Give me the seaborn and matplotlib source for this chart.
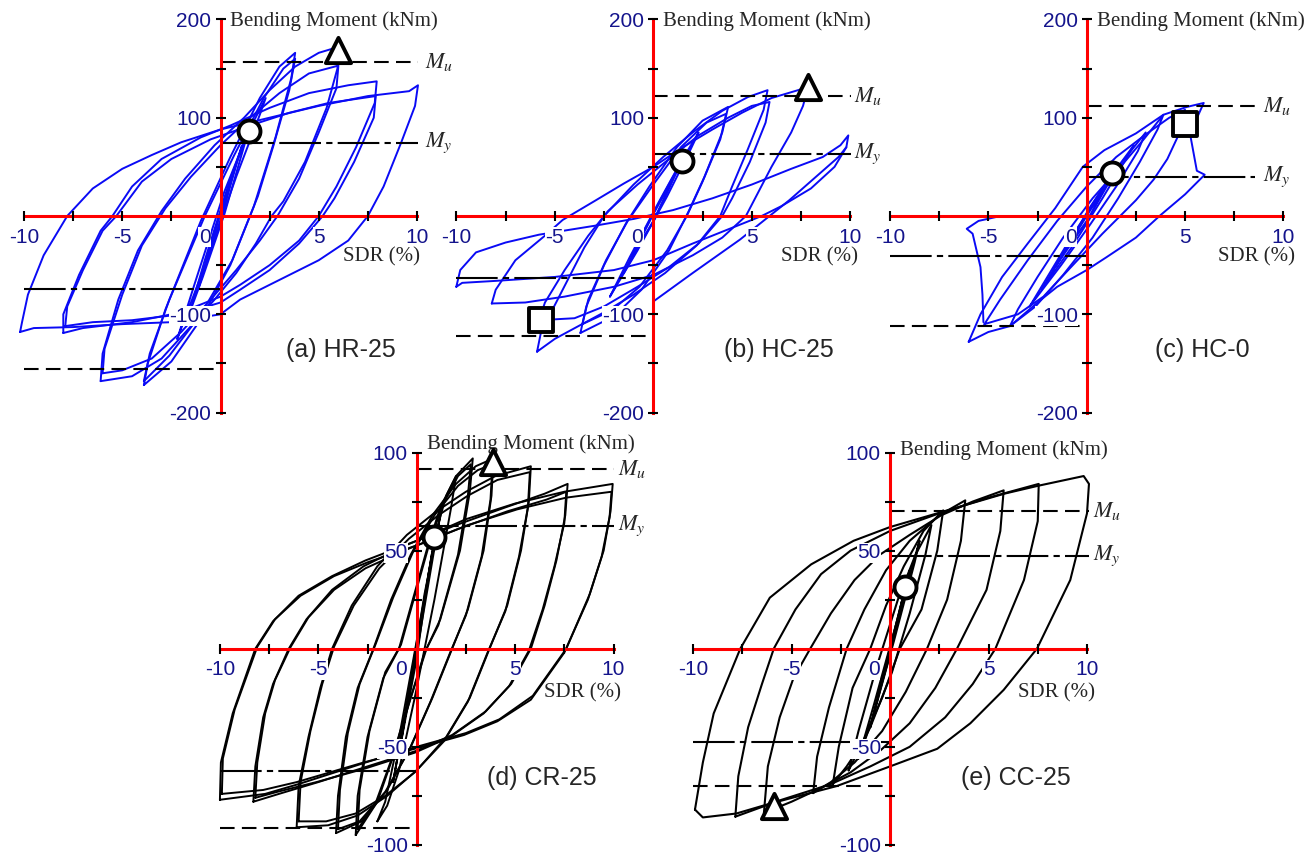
import pandas as pd
import seaborn as sns
import matplotlib.pyplot as plt
from matplotlib.transforms import ScaledTranslation

sns.set_theme(style="white")
plt.rcParams["font.family"] = ["Liberation Sans", "DejaVu Sans"]
plt.rcParams["mathtext.fontset"] = "stix"

# ---------- data: (SDR %, bending moment kNm) ----------
# (a) HR-25
HR25_S1 = [(-0.75, -48), (0.0, 4), (0.75, 50), (0.55, 36), (0.0, -6), (-0.75, -48)]
HR25_S2 = [(-1.1, -72), (-0.3, -16), (0.6, 42), (1.1, 72), (0.85, 55), (0.0, -4), (-1.1, -72)]
HR25_S3 = [(-1.6, -100), (-0.8, -45), (0.5, 38), (1.6, 95), (1.3, 78), (0.2, 2), (-0.9, -62), (-1.6, -100)]
HR25_S4 = [(-2.2, -125), (-1.3, -68), (0.2, 25), (1.4, 85), (2.3, 120), (2.0, 103), (0.8, 40), (-0.6, -40), (-2.2, -125)]
HR25_C4A = [(-3.9, -172), (-3.7, -150), (-2.8, -95), (-1.0, -5), (0.5, 60), (2.0, 120), (3.0, 152), (3.8, 166),
            (3.6, 140), (2.8, 80), (1.7, 10), (0.5, -50), (-1.0, -105), (-2.5, -148), (-3.9, -172)]
HR25_C4B = [(-3.9, -168), (-3.6, -140), (-2.6, -85), (-0.8, 0), (0.7, 62), (2.2, 120), (3.2, 150), (3.8, 160),
            (3.5, 128), (2.7, 72), (1.9, 20), (0.6, -45), (-1.0, -100), (-2.6, -142), (-3.9, -168)]
HR25_C6A = [(-6.1, -168), (-6.0, -140), (-5.2, -85), (-4.2, -35), (-3.0, 5), (-1.8, 38), (-0.3, 72), (1.2, 100),
            (2.5, 128), (3.8, 152), (5.0, 166), (6.0, 172), (5.95, 150), (5.4, 110), (4.3, 55), (3.2, 15),
            (2.6, 0), (1.8, -28), (0.8, -58), (-0.3, -85), (-1.5, -112), (-3.0, -145), (-4.5, -163), (-6.1, -168)]
HR25_C6B = [(-6.0, -160), (-5.9, -135), (-5.0, -80), (-4.0, -30), (-2.8, 8), (-1.5, 40), (0.0, 72), (1.5, 100),
            (3.0, 125), (4.5, 145), (6.0, 153), (5.9, 130), (5.0, 85), (4.0, 38), (2.9, 0), (2.0, -25),
            (0.8, -55), (-0.5, -85), (-2.0, -118), (-3.5, -145), (-5.0, -157), (-6.0, -160)]
HR25_C8A = [(-8.0, -119), (-8.0, -100), (-7.2, -60), (-6.1, -15), (-5.5, 0), (-4.5, 30), (-3.0, 58), (-1.0, 80),
            (0.5, 92), (2.5, 110), (4.5, 125), (6.5, 133), (7.95, 137), (7.85, 115), (6.9, 70), (5.9, 30),
            (5.0, 0), (4.0, -25), (2.5, -50), (1.0, -70), (0.0, -82), (-2.0, -98), (-4.5, -108), (-7.0, -114),
            (-8.0, -119)]
HR25_C8B = [(-7.9, -112), (-7.8, -92), (-7.0, -55), (-6.0, -15), (-5.3, 0), (-4.0, 35), (-2.5, 58), (-0.5, 78),
            (1.5, 92), (3.5, 105), (5.5, 115), (7.9, 122), (7.8, 100), (6.8, 55), (5.8, 18), (5.2, 0),
            (4.0, -28), (2.5, -55), (1.0, -75), (0.0, -88), (-2.0, -100), (-4.5, -106), (-6.5, -108), (-7.9, -112)]
HR25_C10 = [(-10.2, -118), (-10.1, -108), (-9.8, -80), (-9.0, -40), (-7.8, 0), (-6.5, 28), (-5.0, 48),
            (-3.5, 62), (-2.0, 75), (0.0, 88), (2.5, 100), (5.0, 112), (7.5, 122), (9.6, 127), (10.05, 133),
            (9.9, 112), (9.2, 75), (8.3, 30), (7.5, 0), (6.5, -25), (5.0, -45), (3.0, -65), (1.0, -85),
            (0.0, -100), (-2.5, -108), (-5.0, -110), (-7.5, -113), (-9.5, -114), (-10.2, -118)]

# (b) HC-25
HC25_S1 = [(-1.0, -38), (0.0, 2), (1.0, 38), (0.8, 28), (0.0, -6), (-1.0, -38)]
HC25_S2 = [(-1.5, -58), (-0.6, -20), (0.6, 25), (1.5, 58), (1.2, 45), (0.0, -5), (-1.5, -58)]
HC25_S3 = [(-2.2, -82), (-1.2, -42), (0.3, 15), (1.4, 55), (2.3, 85), (1.9, 68), (0.7, 20), (-0.8, -35), (-2.2, -82)]
HC25_C4A = [(-3.7, -119), (-3.4, -92), (-2.5, -50), (-1.4, -8), (-0.2, 30), (1.2, 70), (2.5, 97), (3.8, 111),
            (3.5, 85), (2.6, 40), (1.8, 5), (0.8, -35), (-0.6, -75), (-2.0, -102), (-3.7, -119)]
HC25_C4B = [(-3.6, -110), (-3.3, -85), (-2.4, -45), (-1.3, -5), (0.0, 32), (1.4, 70), (2.7, 95), (3.7, 104),
            (3.4, 78), (2.5, 35), (1.7, 0), (0.7, -35), (-0.7, -72), (-2.1, -96), (-3.6, -110)]
HC25_C6A = [(-5.9, -138), (-5.7, -118), (-4.6, -75), (-3.5, -32), (-2.5, 0), (-1.0, 32), (0.5, 60), (2.0, 85),
            (3.5, 107), (4.8, 121), (5.8, 128), (5.6, 108), (4.8, 68), (4.0, 30), (3.4, 0), (2.2, -30),
            (0.6, -58), (-1.0, -80), (-2.5, -98), (-3.8, -112), (-5.0, -125), (-5.9, -138)]
HC25_C6B = [(-5.8, -106), (-5.5, -88), (-4.5, -55), (-3.3, -20), (-2.3, 5), (-0.8, 32), (0.8, 58), (2.3, 82),
            (3.8, 100), (5.0, 112), (5.9, 116), (5.7, 95), (4.9, 55), (4.0, 18), (3.5, 0), (2.3, -28),
            (0.8, -52), (-0.8, -72), (-2.5, -92), (-4.0, -104), (-5.8, -106)]
HC25_C8 = [(-8.2, -89), (-8.0, -75), (-7.0, -45), (-5.5, -20), (-4.6, -4), (-3.0, 15), (-1.5, 33), (0.0, 50),
           (1.5, 70), (3.0, 88), (4.5, 105), (6.0, 120), (7.85, 131), (7.6, 112), (7.0, 85), (6.0, 50),
           (4.7, 0), (3.5, -22), (2.0, -40), (0.0, -60), (-2.0, -72), (-4.5, -82), (-6.5, -88), (-8.2, -89)]
HC25_C10 = [(-10.0, -72), (-9.8, -55), (-9.0, -37), (-7.5, -27), (-5.8, -19), (-3.0, -10), (-1.0, -3),
            (1.0, 6), (3.0, 18), (5.0, 32), (7.0, 48), (8.6, 60), (9.5, 72), (9.9, 82), (9.8, 70), (9.2, 50),
            (8.0, 28), (6.5, 10), (5.5, 0), (4.0, -12), (2.0, -28), (0.0, -45), (-2.0, -55), (-5.0, -62),
            (-8.0, -66), (-9.7, -68), (-10.0, -72)]
HC25_TAIL = [(0.0, -87), (2.0, -58), (4.4, -24), (6.9, 16), (9.4, 60), (9.8, 70)]

# (c) HC-0
HC0_S1 = [(-1.0, -32), (0.0, 0), (1.0, 32), (0.8, 24), (0.0, -6), (-1.0, -32)]
HC0_S2 = [(-1.6, -52), (-0.6, -18), (0.6, 22), (1.6, 52), (1.3, 40), (0.1, -2), (-1.6, -52)]
HC0_S3 = [(-2.3, -75), (-1.2, -38), (0.2, 10), (1.4, 45), (2.4, 72), (2.0, 58), (0.8, 18), (-0.7, -30), (-2.3, -75)]
HC0_C3 = [(-2.9, -92), (-2.0, -62), (-0.8, -22), (0.6, 20), (1.8, 55), (3.0, 85), (2.6, 66), (1.5, 30),
          (0.2, -8), (-1.3, -50), (-2.9, -92)]
HC0_C4 = [(-3.9, -112), (-3.5, -95), (-2.5, -62), (-1.2, -22), (0.3, 18), (1.8, 52), (2.9, 78), (3.9, 103),
          (3.6, 88), (2.7, 55), (1.6, 18), (0.3, -22), (-1.2, -60), (-2.6, -92), (-3.9, -112)]
HC0_C5 = [(-5.2, -110), (-4.4, -85), (-3.0, -45), (-1.5, -5), (0.0, 30), (1.5, 60), (3.0, 83), (4.2, 100),
          (5.0, 108), (4.8, 88), (4.1, 58), (3.4, 37), (2.5, 16), (0.8, -18), (-0.8, -52), (-2.2, -82),
          (-3.5, -100), (-5.2, -110)]
HC0_C6 = [(-6.0, -128), (-5.4, -100), (-4.3, -62), (-3.0, -28), (-1.6, 8), (-0.2, 50), (0.9, 67), (2.5, 84),
          (3.9, 103), (5.1, 111), (5.95, 115), (5.25, 84), (5.6, 46), (6.0, 42), (5.0, 22), (3.7, 0),
          (2.5, -22), (1.0, -42), (0.0, -55), (-1.5, -72), (-2.5, -88), (-3.9, -112), (-5.0, -118), (-6.0, -128)]
HC0_F = [(-5.25, -108), (-5.3, -80), (-5.4, -52), (-5.8, -18), (-6.1, -13), (-5.5, -5), (-4.6, -1)]

# (d) CR-25
CR25_S1 = [(-0.5, -30), (0.5, 31), (0.35, 22), (-0.5, -30)]
CR25_S2 = [(-0.8, -48), (0.0, 2), (0.8, 50), (0.6, 38), (0.0, -5), (-0.8, -48)]
CR25_S3 = [(-1.2, -68), (-0.4, -22), (0.4, 28), (1.2, 68), (0.95, 54), (0.0, -2), (-1.2, -68)]
CR25_C2 = [(-2.0, -88), (-1.6, -78), (-0.8, -40), (0.2, 15), (1.0, 60), (1.5, 78), (2.0, 88), (1.75, 72),
           (0.9, 25), (-0.1, -25), (-0.9, -62), (-1.5, -80), (-2.0, -88)]
CR25_C3A = [(-3.1, -95), (-3.0, -75), (-2.5, -45), (-1.7, -15), (-0.9, 0), (-0.2, 25), (0.5, 50), (1.2, 72),
            (2.0, 88), (2.85, 97), (2.7, 80), (2.2, 50), (1.2, 15), (0.5, 0), (-0.3, -25), (-1.2, -55),
            (-2.0, -78), (-3.1, -95)]
CR25_C3B = [(-3.0, -92), (-2.9, -72), (-2.4, -42), (-1.6, -12), (-0.8, 2), (-0.1, 27), (0.6, 52), (1.3, 73),
            (2.1, 88), (2.75, 94), (2.6, 78), (2.1, 48), (1.1, 12), (0.4, -2), (-0.4, -28), (-1.3, -57),
            (-2.1, -79), (-3.0, -92)]
CR25_C4A = [(-4.1, -94), (-4.0, -75), (-3.6, -45), (-3.0, -20), (-2.2, 0), (-1.3, 25), (-0.3, 48), (0.8, 68),
            (2.0, 84), (3.0, 93), (3.9, 97), (3.8, 78), (3.4, 50), (2.6, 20), (1.8, 0), (0.8, -25),
            (-0.3, -50), (-1.5, -72), (-2.8, -88), (-4.1, -94)]
CR25_C4B = [(-4.0, -92), (-3.9, -72), (-3.5, -43), (-2.9, -18), (-2.1, 2), (-1.2, 26), (-0.2, 49), (0.9, 68),
            (2.1, 83), (3.1, 91), (3.85, 94), (3.75, 76), (3.3, 47), (2.5, 17), (1.7, -2), (0.7, -27),
            (-0.4, -52), (-1.6, -73), (-2.9, -88), (-4.0, -92)]
CR25_C6A = [(-6.1, -91), (-6.0, -70), (-5.5, -45), (-4.9, -20), (-4.3, 0), (-3.3, 22), (-2.0, 42), (-0.5, 58),
            (1.0, 70), (2.5, 80), (4.0, 88), (5.8, 93), (5.7, 75), (5.3, 50), (4.6, 22), (3.7, 0), (2.7, -25),
            (1.5, -45), (0.0, -62), (-1.5, -75), (-3.0, -85), (-4.5, -90), (-6.1, -91)]
CR25_C6B = [(-6.0, -88), (-5.9, -68), (-5.4, -42), (-4.8, -18), (-4.2, 1), (-3.2, 22), (-1.9, 41), (-0.4, 56),
            (1.1, 68), (2.6, 78), (4.1, 86), (5.75, 90), (5.65, 72), (5.2, 47), (4.5, 19), (3.6, -2),
            (2.6, -27), (1.4, -47), (-0.1, -63), (-1.6, -75), (-3.1, -84), (-4.6, -88), (-6.0, -88)]
CR25_C8A = [(-8.3, -78), (-8.2, -60), (-7.8, -35), (-7.3, -18), (-6.5, 0), (-5.6, 15), (-4.3, 30), (-2.7, 42),
            (-0.5, 53), (2.0, 63), (4.5, 72), (6.5, 79), (7.67, 84), (7.55, 68), (7.1, 45), (6.5, 22), (5.8, 0),
            (4.8, -18), (3.5, -32), (1.8, -44), (0.0, -52), (-2.5, -60), (-5.0, -68), (-7.0, -74), (-8.3, -78)]
CR25_C8B = [(-8.2, -76), (-8.1, -58), (-7.7, -33), (-7.2, -16), (-6.4, 1), (-5.5, 16), (-4.2, 30), (-2.6, 41),
            (-0.4, 51), (2.1, 61), (4.6, 70), (6.6, 76), (7.6, 80), (7.5, 64), (7.0, 42), (6.4, 20), (5.7, -1),
            (4.7, -19), (3.4, -33), (1.7, -45), (-0.1, -53), (-2.6, -61), (-5.1, -68), (-7.1, -73), (-8.2, -76)]
CR25_C10A = [(-10.0, -77), (-9.95, -58), (-9.35, -33), (-8.2, 0), (-7.3, 14), (-6.0, 27), (-4.3, 37),
             (-2.6, 45), (0.0, 55), (2.5, 66), (5.0, 74), (7.5, 80), (9.96, 84), (9.85, 70), (9.5, 50),
             (8.8, 28), (7.6, 0), (5.9, -24), (4.2, -36), (2.5, -43), (0.0, -50), (-2.6, -58), (-6.0, -69),
             (-7.7, -74), (-10.0, -77)]
CR25_C10B = [(-9.9, -74), (-9.85, -56), (-9.25, -31), (-8.1, 1), (-7.2, 15), (-5.9, 27), (-4.2, 37),
             (-2.5, 44), (0.1, 53), (2.6, 63), (5.1, 71), (7.6, 77), (9.9, 80), (9.8, 67), (9.4, 47),
             (8.7, 25), (7.5, -2), (5.8, -26), (4.1, -37), (2.4, -44), (-0.1, -51), (-2.7, -58), (-6.1, -68),
             (-7.8, -72), (-9.9, -74)]

# (e) CC-25
CC25_S1 = [(-0.6, -24), (0.0, 0), (0.6, 24), (0.45, 17), (0.0, -3), (-0.6, -24)]
CC25_S2 = [(-1.0, -40), (-0.3, -12), (0.4, 16), (1.0, 40), (0.8, 31), (0.0, -2), (-1.0, -40)]
CC25_S3 = [(-1.6, -56), (-0.8, -28), (0.3, 12), (1.5, 55), (1.25, 44), (0.2, 4), (-0.9, -36), (-1.6, -56)]
CC25_C2 = [(-2.1, -62), (-1.6, -42), (-0.7, -10), (0.4, 25), (1.3, 48), (2.1, 63), (1.8, 48), (1.0, 18),
           (0.1, -12), (-1.0, -40), (-2.1, -62)]
CC25_C3 = [(-2.9, -69), (-2.6, -50), (-1.9, -20), (-1.0, 0), (-0.2, 22), (0.7, 42), (1.7, 60), (2.7, 70.5),
           (2.4, 50), (1.6, 20), (0.5, 0), (-0.4, -25), (-1.4, -48), (-2.2, -60), (-2.9, -69)]
CC25_C4 = [(-3.9, -73.6), (-3.7, -55), (-3.1, -30), (-2.2, 0), (-1.3, 20), (-0.2, 40), (1.0, 55), (2.5, 68),
           (3.82, 75.6), (3.6, 55), (2.9, 25), (1.88, 0), (0.8, -22), (-0.4, -42), (-1.8, -58), (-3.0, -68),
           (-3.9, -73.6)]
CC25_C6 = [(-6.4, -83.7), (-6.2, -60), (-5.6, -35), (-4.9, -15), (-4.05, 0), (-3.0, 18), (-1.8, 35), (-0.5, 48),
           (1.0, 58), (2.6, 68), (4.2, 75), (5.77, 80.7), (5.6, 60), (4.9, 30), (3.4, 0), (2.3, -20), (1.0, -38),
           (-0.5, -52), (-2.0, -63), (-3.5, -71), (-5.0, -78), (-6.4, -83.7)]
CC25_C8 = [(-7.85, -85.6), (-7.7, -65), (-7.2, -40), (-6.5, -18), (-5.9, 0), (-4.8, 20), (-3.5, 38), (-2.0, 50),
           (0.0, 60), (2.5, 69), (5.0, 77), (7.55, 84), (7.5, 65), (6.8, 35), (5.35, 0), (4.2, -18), (2.8, -35),
           (1.0, -50), (-1.0, -60), (-3.0, -69), (-5.5, -77), (-7.85, -85.6)]
CC25_C10 = [(-9.9, -82), (-9.5, -58), (-8.95, -33), (-7.6, 0), (-6.1, 26), (-4.0, 43), (-1.85, 55), (0.0, 62),
            (2.4, 69), (5.8, 79), (7.5, 83), (9.83, 88), (10.1, 84), (10.0, 69), (9.15, 35), (7.46, 0),
            (5.77, -21), (4.08, -38), (2.4, -51), (0.0, -60), (-2.7, -70), (-6.1, -79), (-7.8, -84),
            (-9.5, -86), (-9.9, -82)]

# reference moments (Mu+, My+, My-, Mu-) and marker points
HR25_REF = [157, 74.6, -74.6, -156]
HC25_REF = [122, 63.4, -62.7, -122]
HC0_REF = [112, 40, -40.3, -112]
CR25_REF = [91.4, 62.5, -62.4, -91.2]
CC25_REF = [70, 47.3, -47.6, -70.2]

HR25_MARK = {"o": (1.47, 86.8), "^": (6.0, 169)}
HC25_MARK = {"o": (1.46, 56), "^": (7.85, 131), "s": (-5.7, -106)}
HC0_MARK = {"o": (1.27, 44), "s": (5.0, 94)}
CR25_MARK = {"o": (0.9, 57), "^": (3.86, 95)}
CC25_MARK = {"o": (0.78, 31.5), "^": (-5.9, -80)}

BLUE = "#0a0af5"
NAVY = "#14148c"

panels = [
    dict(name="(a) HR-25", color=BLUE, lw=1.4, ox=220.5, oy=216, sx=19.65, sy=0.983, ymax=200,
         loops=dict(s1=HR25_S1, s2=HR25_S2, s3=HR25_S3, s4=HR25_S4, c4a=HR25_C4A, c4b=HR25_C4B,
                    c6a=HR25_C6A, c6b=HR25_C6B, c8a=HR25_C8A, c8b=HR25_C8B, c10=HR25_C10),
         ref=HR25_REF, mark=HR25_MARK, pos_end=10.05, mlab_x=10.4, bm_y=198, sdr_x=10.15, sdr_y=-42,
         lab=(6.13, -136)),
    dict(name="(b) HC-25", color=BLUE, lw=1.4, ox=653.3, oy=216, sx=19.7, sy=0.983, ymax=200,
         loops=dict(s1=HC25_S1, s2=HC25_S2, s3=HC25_S3, c4a=HC25_C4A, c4b=HC25_C4B, c6a=HC25_C6A,
                    c6b=HC25_C6B, c8=HC25_C8, c10=HC25_C10, tail=HC25_TAIL),
         ref=HC25_REF, mark=HC25_MARK, pos_end=10.05, mlab_x=10.2, bm_y=198, sdr_x=10.4, sdr_y=-42,
         lab=(6.38, -136)),
    dict(name="(c) HC-0", color=BLUE, lw=1.4, ox=1086.7, oy=216, sx=19.67, sy=0.983, ymax=200,
         loops=dict(s1=HC0_S1, s2=HC0_S2, s3=HC0_S3, c3=HC0_C3, c4=HC0_C4, c5=HC0_C5, c6=HC0_C6, f=HC0_F),
         ref=HC0_REF, mark=HC0_MARK, pos_end=8.56, mlab_x=8.95, bm_y=198, sdr_x=10.6, sdr_y=-42,
         lab=(5.86, -136)),
    dict(name="(d) CR-25", color="black", lw=1.4, ox=416.7, oy=648.7, sx=19.68, sy=1.962, ymax=100,
         loops=dict(s1=CR25_S1, s2=CR25_S2, s3=CR25_S3, c2=CR25_C2, c3a=CR25_C3A, c3b=CR25_C3B,
                    c4a=CR25_C4A, c4b=CR25_C4B, c6a=CR25_C6A, c6b=CR25_C6B, c8a=CR25_C8A, c8b=CR25_C8B,
                    c10a=CR25_C10A, c10b=CR25_C10B),
         ref=CR25_REF, mark=CR25_MARK, pos_end=10.0, mlab_x=10.25, bm_y=104.5, sdr_x=10.4, sdr_y=-22.5,
         lab=(6.37, -66)),
    dict(name="(e) CC-25", color="black", lw=1.5, ox=890, oy=648.7, sx=19.7, sy=1.962, ymax=100,
         loops=dict(s1=CC25_S1, s2=CC25_S2, s3=CC25_S3, c2=CC25_C2, c3=CC25_C3, c4=CC25_C4, c6=CC25_C6,
                    c8=CC25_C8, c10=CC25_C10),
         ref=CC25_REF, mark=CC25_MARK, pos_end=10.1, mlab_x=10.3, bm_y=101, sdr_x=10.4, sdr_y=-22.5,
         lab=(6.4, -66)),
]

W, H = 1313, 856
fig = plt.figure(figsize=(W / 100, H / 100), dpi=100)

DASH = (7, 3.5)
DASHDOT = (20, 2.5, 3, 2.5)
MARKER_SIZE = {"o": 250, "^": 330, "s": 280}

for p in panels:
    ymax = p["ymax"]
    x0, x1 = -10.6, 10.6
    y0, y1 = -ymax * 1.03, ymax * 1.03
    left = (p["ox"] + x0 * p["sx"]) / W
    top = (p["oy"] - y1 * p["sy"]) / H
    ax = fig.add_axes([left, 1 - top - (y1 - y0) * p["sy"] / H, (x1 - x0) * p["sx"] / W, (y1 - y0) * p["sy"] / H])
    ax.patch.set_alpha(0)

    rows = []
    for key, pts in p["loops"].items():
        for x, y in pts:
            rows.append((key, x, y))
    df = pd.DataFrame(rows, columns=["loop", "sdr", "moment"])
    sns.lineplot(data=df, x="sdr", y="moment", units="loop", estimator=None, sort=False,
                 color=p["color"], lw=p["lw"], ax=ax, zorder=2)

    # reference moments
    mu_p, my_p, my_n, mu_n = p["ref"]
    ax.plot([0, p["pos_end"]], [mu_p, mu_p], color="black", lw=1.5, dashes=DASH, zorder=2.3)
    ax.plot([0, p["pos_end"]], [my_p, my_p], color="black", lw=1.5, dashes=DASHDOT, zorder=2.3)
    ax.plot([-10, 0], [my_n, my_n], color="black", lw=1.5, dashes=DASHDOT, zorder=2.3)
    ax.plot([-10, 0], [mu_n, mu_n], color="black", lw=1.5, dashes=DASH, zorder=2.3)
    ax.text(p["mlab_x"], mu_p, "$M_u$", fontsize=16, ha="left", va="center")
    ax.text(p["mlab_x"], my_p, "$M_y$", fontsize=16, ha="left", va="center")

    for m, (mx, my) in p["mark"].items():
        sns.scatterplot(x=[mx], y=[my], marker=m, s=MARKER_SIZE[m], facecolor="white", edgecolor="black",
                        linewidth=2.8, ax=ax, zorder=5)

    ax.set_xlim(x0, x1)
    ax.set_ylim(y0, y1)
    ax.set(xlabel="", ylabel="")

    # axes through the origin
    for s in ["top", "right"]:
        ax.spines[s].set_visible(False)
    for s in ["left", "bottom"]:
        ax.spines[s].set_position(("data", 0))
        ax.spines[s].set_color("red")
        ax.spines[s].set_linewidth(2.2)
    ax.spines["bottom"].set_bounds(-10, 10)
    ax.spines["left"].set_bounds(-ymax, ymax)

    ax.set_xticks([-10, -5, 0, 5, 10])
    ax.set_xticklabels(["-10", "-5", "0", "5", "10"])
    ax.set_xticks([-7.5, -2.5, 2.5, 7.5], minor=True)
    ax.set_yticks([-ymax, -ymax / 2, ymax / 2, ymax])
    ax.set_yticklabels([str(int(v)) for v in [-ymax, -ymax / 2, ymax / 2, ymax]])
    ax.set_yticks([-ymax * 0.75, -ymax * 0.25, ymax * 0.25, ymax * 0.75], minor=True)
    ax.set_axisbelow(False)
    ax.tick_params(which="both", direction="inout", length=7, width=1.5, color="black",
                   bottom=True, left=True, top=False, right=False)
    ax.tick_params(axis="x", which="major", pad=4.8, labelsize=15, labelcolor=NAVY)
    ax.tick_params(axis="y", which="major", pad=3.0, labelsize=15, labelcolor=NAVY)
    ax.xaxis.get_major_ticks()[2].tick1line.set_visible(False)
    for lab in ax.get_xticklabels() + ax.get_yticklabels():
        lab.set_bbox(dict(facecolor="white", edgecolor="none", pad=0.3))
    zero = ax.get_xticklabels()[2]
    zero.set_transform(zero.get_transform() + ScaledTranslation(-0.16, 0, fig.dpi_scale_trans))

    ax.text(0.5, p["bm_y"], "Bending Moment (kNm)", family="Liberation Serif", fontsize=15,
            ha="left", va="center")
    ax.text(p["sdr_x"], p["sdr_y"], "SDR (%)", family="Liberation Serif", fontsize=15,
            ha="right", va="center")
    ax.text(p["lab"][0], p["lab"][1], p["name"], fontsize=18, ha="center", va="center")

fig.savefig("out.png", dpi=100)
